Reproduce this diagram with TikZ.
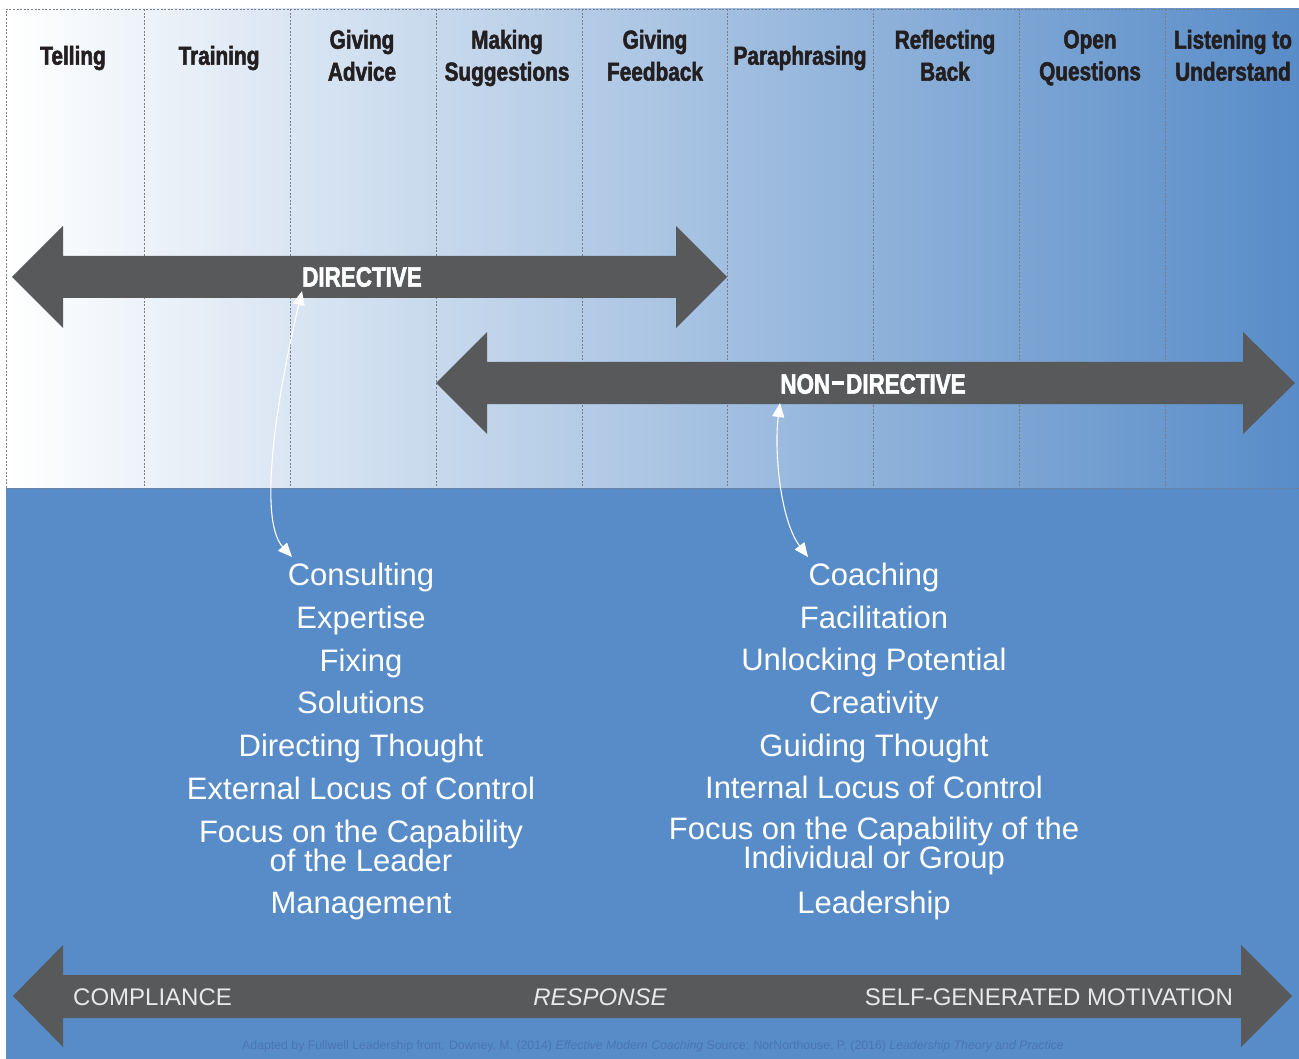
\documentclass[tikz,border=0pt]{standalone}
\usepackage{fontspec}
\setmainfont{Liberation Sans}
\newfontfamily\headfont[FakeStretch=0.8, BoldFeatures={FakeBold=2}]{Liberation Sans}
\usetikzlibrary{arrows.meta}
\definecolor{panelblue}{RGB}{88,140,200}
\definecolor{arrowgray}{RGB}{88,89,91}
\definecolor{inkdark}{RGB}{35,31,32}
\definecolor{guide}{RGB}{120,125,135}
\definecolor{notecol}{RGB}{74,118,178}
\definecolor{bandtext}{RGB}{232,232,232}
\newcommand{\lowline}{\vphantom{g}}
\begin{document}
\begin{tikzpicture}[x=1pt,y=-1pt,
  header/.style={font=\headfont\bfseries\fontsize{26}{32}\selectfont, text=inkdark, align=center, inner sep=0pt},
  bandlabel/.style={font=\headfont\bfseries\fontsize{28}{32}\selectfont, text=white, inner sep=0pt},
  listitem/.style={font=\fontsize{31}{30}\selectfont, text=white, align=center, inner sep=0pt, anchor=base},
  polelabel/.style={font=\fontsize{24}{24}\selectfont, text=bandtext, inner sep=0pt, anchor=base},
  colline/.style={guide, line width=0.7pt, dash pattern=on 2pt off 1.6pt},
  bigarrow/.style={fill=arrowgray},
  link/.style={white, line width=1.1pt, {Triangle[length=14pt,width=12pt]}-{Triangle[length=14pt,width=12pt]}}
]
\useasboundingbox (0,0) rectangle (1299,1059);
\fill[white] (0,0) rectangle (1299,1059);

% upper panel: graded background, frame and column guides
\shade[left color=white, right color=panelblue] (6,9) rectangle (1299,488);
\draw[colline] (6,488) -- (6,9) -- (1299,9);
\foreach \gx in {144,290,436,582,727,873,1019,1165}
  \draw[colline] (\gx,9) -- (\gx,488);

% lower panel
\fill[panelblue] (6,488) rectangle (1299,1059);
\draw[colline] (6,488) -- (1299,488);

% column headings
\node[header] (h1) at (73,58) {Telling};
\node[header] (h2) at (219,58) {Training};
\node[header] (h3) at (362,58) {Giving\\Advice\lowline};
\node[header] (h4) at (507,58) {Making\\Suggestions\lowline};
\node[header] (h5) at (655,58) {Giving\\Feedback\lowline};
\node[header] (h6) at (800,58) {Paraphrasing};
\node[header] (h7) at (945,58) {Reflecting\\Back\lowline};
\node[header] (h8) at (1090,58) {Open\\Questions\lowline};
\node[header] (h9) at (1233,58) {Listening to\\Understand\lowline};

% directive band
\fill[bigarrow] (12,277) -- (63,226) -- (63,256) -- (676,256) -- (676,226) -- (727,277)
  -- (676,328) -- (676,298) -- (63,298) -- (63,328) -- cycle;
\node[bandlabel] (dir) at (362,277) {DIRECTIVE};

% non-directive band
\fill[bigarrow] (436,383) -- (487,332) -- (487,362) -- (1243,362) -- (1243,332) -- (1295,383)
  -- (1243,434) -- (1243,404) -- (487,404) -- (487,434) -- cycle;
\node[bandlabel] (nondir) at (873,384) {NON{\kern0.06em\rule[0.32em]{0.45em}{0.14em}\kern0.06em}DIRECTIVE};

% response band
\fill[bigarrow] (13,996) -- (63,945) -- (63,975) -- (1241,975) -- (1241,945) -- (1292,996)
  -- (1241,1047) -- (1241,1018) -- (63,1018) -- (63,1047) -- cycle;
\node[polelabel, anchor=base west] (comp) at (73,1005) {COMPLIANCE};
\node[polelabel] (resp) at (600,1005) {\itshape RESPONSE};
\node[polelabel, anchor=base east] (self) at (1233,1005) {SELF-GENERATED MOTIVATION};

% directive qualities
\node[listitem] (consulting) at (361,585) {Consulting};
\node[listitem] (l2) at (361,628) {Expertise};
\node[listitem] (l3) at (361,671) {Fixing};
\node[listitem] (l4) at (361,713) {Solutions};
\node[listitem] (l5) at (361,756) {Directing Thought};
\node[listitem] (l6) at (361,799) {External Locus of Control};
\node[listitem, anchor=center] (l7) at (361,846) {Focus on the Capability\\[-1pt]of the Leader};
\node[listitem] (l8) at (361,913) {Management};

% non-directive qualities
\node[listitem] (coaching) at (874,585) {Coaching};
\node[listitem] (r2) at (874,628) {Facilitation};
\node[listitem] (r3) at (874,670) {Unlocking Potential};
\node[listitem] (r4) at (874,713) {Creativity};
\node[listitem] (r5) at (874,756) {Guiding Thought};
\node[listitem] (r6) at (874,798) {Internal Locus of Control};
\node[listitem, anchor=center] (r7) at (874,846) {Focus on the Capability of the\\[-1pt]Individual or Group};
\node[listitem] (r8) at (874,913) {Leadership};

% links between bands and lists
\coordinate (dirfoot) at (302,291);
\coordinate (nondirfoot) at (780,403);
\coordinate (constop) at (292,557);
\coordinate (coachtop) at (808,557);
\draw[link] (dirfoot) .. controls (276,400) and (258,520) .. (constop);
\draw[link] (nondirfoot) .. controls (774,450) and (780,520) .. (coachtop);

% source note
\node[font=\fontsize{12.3}{12}\selectfont, text=notecol, inner sep=0pt] (note) at (653,1046)
  {Adapted by Fullwell Leadership from: Downey, M. (2014) \textit{Effective Modern Coaching} Source: NorNorthouse, P. (2016) \textit{Leadership Theory and Practice}};
\end{tikzpicture}
\end{document}
